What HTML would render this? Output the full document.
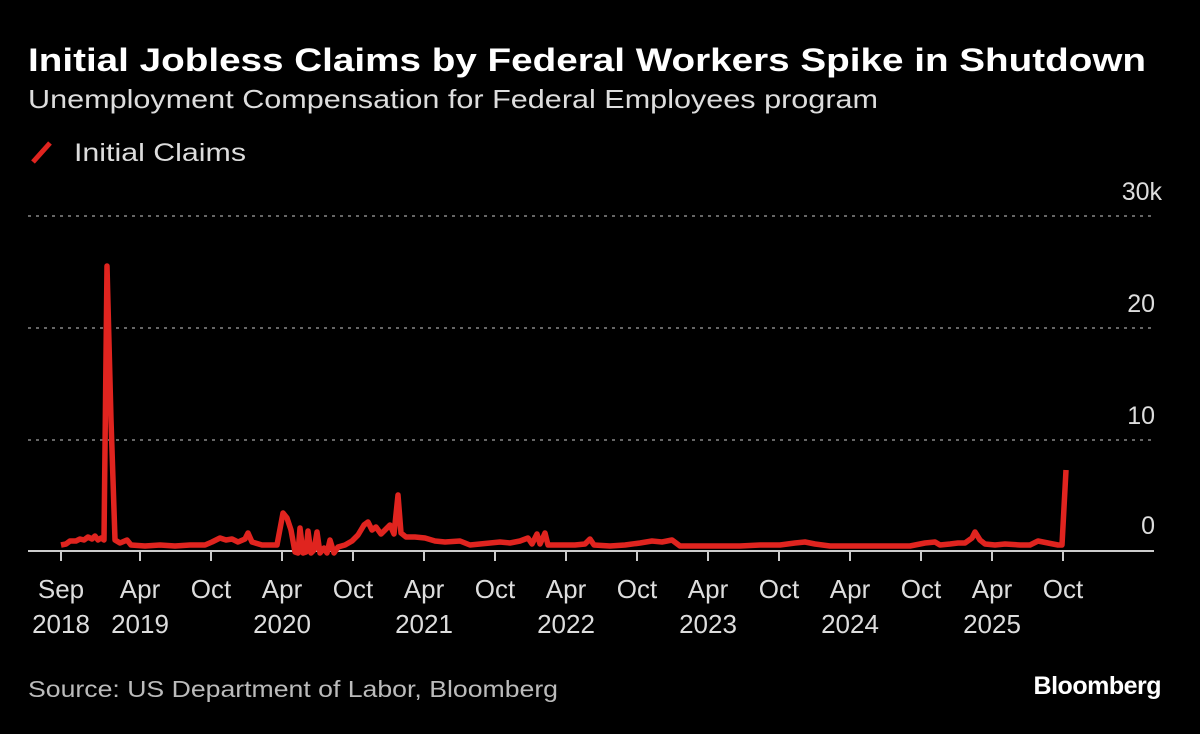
<!DOCTYPE html>
<html><head><style>
body{margin:0;background:#000;width:1200px;height:729px;overflow:hidden;font-family:"Liberation Sans",sans-serif;color:#fff}
</style></head><body>
<svg width="1200" height="729" xmlns="http://www.w3.org/2000/svg" font-family="Liberation Sans, sans-serif">
<rect width="1200" height="729" fill="#000"/>
<text x="28" y="71" font-size="32" font-weight="bold" fill="#fff" textLength="1118" lengthAdjust="spacingAndGlyphs">Initial Jobless Claims by Federal Workers Spike in Shutdown</text>
<text x="28" y="108" font-size="26" fill="#ddd" textLength="850" lengthAdjust="spacingAndGlyphs">Unemployment Compensation for Federal Employees program</text>
<line x1="33" y1="162" x2="50" y2="143" stroke="#e0241f" stroke-width="5"/>
<text x="74" y="161" font-size="25" fill="#ddd" textLength="172" lengthAdjust="spacingAndGlyphs">Initial Claims</text>
<g stroke="#888" stroke-width="1.5" stroke-dasharray="3,5">
<line x1="28" y1="216" x2="1154" y2="216"/><line x1="28" y1="328" x2="1154" y2="328"/><line x1="28" y1="440" x2="1154" y2="440"/>
</g>
<g font-size="25" fill="#ddd" text-anchor="end">
<text x="1162" y="200">30k</text><text x="1155" y="312">20</text><text x="1155" y="424">10</text><text x="1155" y="534">0</text>
</g>
<line x1="28" y1="551" x2="1154" y2="551" stroke="#ccc" stroke-width="2"/>
<g stroke="#ccc" stroke-width="2">
<line x1="61" y1="551" x2="61" y2="561"/><line x1="140" y1="551" x2="140" y2="561"/><line x1="211" y1="551" x2="211" y2="561"/><line x1="282" y1="551" x2="282" y2="561"/><line x1="353" y1="551" x2="353" y2="561"/><line x1="424" y1="551" x2="424" y2="561"/><line x1="495" y1="551" x2="495" y2="561"/><line x1="566" y1="551" x2="566" y2="561"/><line x1="637" y1="551" x2="637" y2="561"/><line x1="708" y1="551" x2="708" y2="561"/><line x1="779" y1="551" x2="779" y2="561"/><line x1="850" y1="551" x2="850" y2="561"/><line x1="921" y1="551" x2="921" y2="561"/><line x1="992" y1="551" x2="992" y2="561"/><line x1="1063" y1="551" x2="1063" y2="561"/>
</g>
<g font-size="26" fill="#ddd" text-anchor="middle">
<text x="61" y="598">Sep</text><text x="61" y="633">2018</text>
<text x="140" y="598">Apr</text><text x="140" y="633">2019</text>
<text x="211" y="598">Oct</text>
<text x="282" y="598">Apr</text><text x="282" y="633">2020</text>
<text x="353" y="598">Oct</text>
<text x="424" y="598">Apr</text><text x="424" y="633">2021</text>
<text x="495" y="598">Oct</text>
<text x="566" y="598">Apr</text><text x="566" y="633">2022</text>
<text x="637" y="598">Oct</text>
<text x="708" y="598">Apr</text><text x="708" y="633">2023</text>
<text x="779" y="598">Oct</text>
<text x="850" y="598">Apr</text><text x="850" y="633">2024</text>
<text x="921" y="598">Oct</text>
<text x="992" y="598">Apr</text><text x="992" y="633">2025</text>
<text x="1063" y="598">Oct</text>
</g>
<polyline fill="none" stroke="#e0241f" stroke-width="5.5" stroke-linejoin="round" points="61,545 66,544 70,541 76,541 80,539 84,540 88,537 92,539 95,536 98,540 101,538 104,540 107,266 111,420 115,540 120,543 127,540 131,545 145,546 160,545 175,546 190,545 205,545 212,542 220,538 226,540 232,539 238,542 245,539 248,533 252,542 262,545 277,545 283,513 287,518 291,530 295,552 298,553 300,528 303,553 306,552 308,531 311,553 314,550 317,532 320,553 324,548 327,553 330,540 334,553 338,547 345,545 352,541 358,535 364,525 368,522 372,530 376,527 381,534 385,530 390,525 394,534 398,495 401,533 406,537 415,537 425,538 435,541 445,542 460,541 470,545 480,544 490,543 500,542 510,543 520,541 528,538 532,544 537,534 540,544 545,533 548,545 560,545 575,545 585,544 590,539 594,545 610,546 625,545 640,543 652,541 662,542 672,540 680,546 700,546 720,546 740,546 760,545 780,545 795,543 805,542 815,544 830,546 850,546 870,546 890,546 910,546 925,543 935,542 940,545 950,544 958,543 965,543 972,538 975,532 980,540 985,544 995,545 1005,544 1020,545 1030,545 1038,541 1048,543 1058,545 1062,545 1066,470"/>
<text x="28" y="697" font-size="23" fill="#bbb" textLength="530" lengthAdjust="spacingAndGlyphs">Source: US Department of Labor, Bloomberg</text>
<text x="1161" y="694" font-size="25" font-weight="bold" fill="#fff" text-anchor="end" letter-spacing="-0.5">Bloomberg</text>
</svg>
</body></html>
